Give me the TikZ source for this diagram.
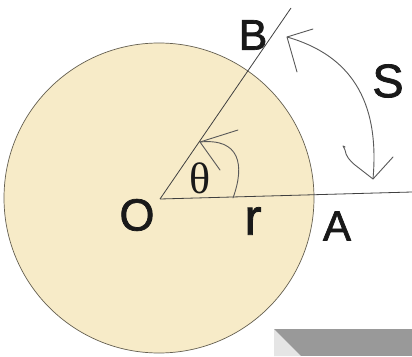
\documentclass[tikz,border=0pt]{standalone}
\usepackage{fontspec}
\setmainfont{Liberation Sans}
\newfontfamily\lblfont[FakeBold=1.6]{Liberation Sans}
\newfontfamily\grk{Liberation Serif}
\begin{document}
\begin{tikzpicture}[x=1pt,y=-1pt,
  lbl/.style={inner sep=0pt,anchor=center,text=black!90},
  ray/.style={draw=black!75,line width=0.8pt},
  arw/.style={draw=black!65,line width=0.9pt,line cap=round,line join=round}]
\definecolor{disc}{RGB}{247,235,200}
\definecolor{rim}{RGB}{100,95,80}
\useasboundingbox (0,0) rectangle (412,356);
\fill[white] (0,0) rectangle (412,356);
% gray box
\fill[black!40] (274,329) rectangle (412,356);
\fill[black!10] (274,329) -- (274,356) -- (301,356) -- cycle;
% disc
\filldraw[fill=disc,draw=rim,line width=0.7pt] (159,198) circle (155);
% points
\coordinate (O) at (160,199);
\coordinate (Aend) at (412,192);
\coordinate (Bend) at (291,8);
\draw[ray] (O) -- (Aend);
\draw[ray] (O) -- (Bend);
% small angle arrow
\coordinate (t0) at (233,198);
\coordinate (t1) at (200,142);
\coordinate (t1a) at (238,130);
\coordinate (t1b) at (220,170);
\draw[arw] (t0) .. controls (245,165) and (240,138) .. (t1);
\draw[arw] (t1a) -- (t1) -- (t1b);
% big arc S
\coordinate (s0) at (287,37);
\coordinate (s1) at (373,179);
\draw[arw] (s0) .. controls (350,55) and (380,100) .. (s1);
\coordinate (s0a) at (313,29);
\coordinate (s0b) at (297,72);
\draw[arw] (s0a) -- (s0) -- (s0b);
\coordinate (s1a) at (393,157);
\draw[arw] (s1a) -- (s1) -- (355,165) .. controls (349,160) and (346,156) .. (345,150) -- (343,146) -- (345,147);
% labels
\node[lbl,font=\lblfont\fontsize{43}{43}\selectfont] (B) at (253,35) {B};
\node[lbl,font=\lblfont\fontsize{47}{47}\selectfont] (S) at (388,81) {S};
\node[lbl,font=\lblfont\fontsize{45}{45}\selectfont] (Ol) at (137,215) {O};
\node[lbl,font=\lblfont\fontsize{51}{51}\selectfont] (r) at (253,221) {r};
\node[lbl,font=\lblfont\fontsize{42}{42}\selectfont] (A) at (337,226) {A};
\node[lbl,font=\grk\fontsize{44}{44}\selectfont] (th) at (200,178) {θ};
\end{tikzpicture}
\end{document}
